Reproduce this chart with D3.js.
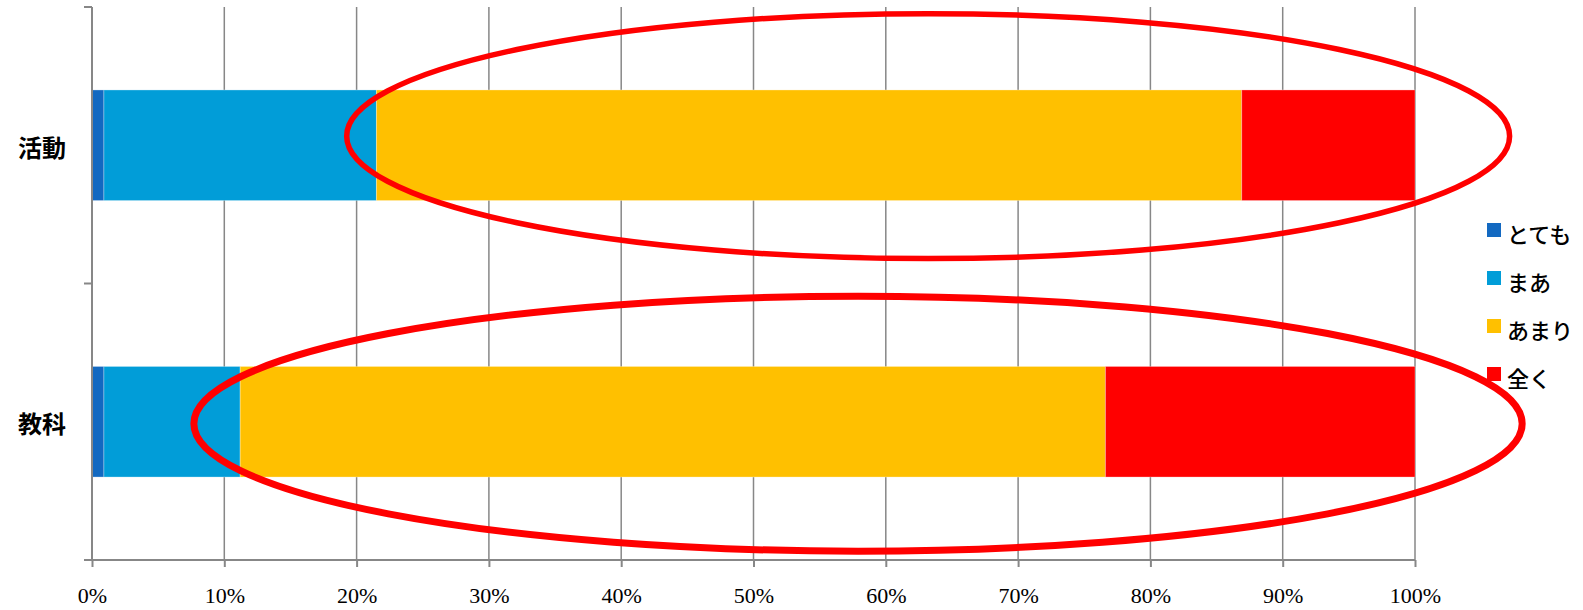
<!DOCTYPE html>
<html>
<head>
<meta charset="utf-8">
<script src="https://cdn.jsdelivr.net/npm/d3@7"></script>
<style>
  html, body { margin: 0; padding: 0; background: #fff; }
  svg { display: block; }
</style>
</head>
<body>
<script>
// ---- data ----
const categories = ["活動", "教科"];
const seriesNames = ["とても", "まあ", "あまり", "全く"];
const seriesColors = ["#1369C1", "#019DD8", "#FFC000", "#FF0000"];
const values_katsudo = [0.009, 0.206, 0.654, 0.131];
const values_kyoka   = [0.009, 0.103, 0.654, 0.234];
const tickValues = [0, 0.1, 0.2, 0.3, 0.4, 0.5, 0.6, 0.7, 0.8, 0.9, 1.0];
// annotation ellipses (centre / radius in value units, vertical in band-step units)
const ellipseCategory = ["活動", "教科"];
const ellipseCx = [0.632, 0.579];
const ellipseRx = [0.4395, 0.502];
const ellipseDy = [-0.033, 0.007];
const ellipseRy = [0.443, 0.461];
const ellipseWidth = [5.5, 7];

const W = 1583, H = 610;
const svg = d3.select("body").append("svg").attr("width", W).attr("height", H);

const x = d3.scaleLinear().domain([0, 1]).range([92, 1415]);
const y = d3.scaleBand().domain(categories).range([7, 560]).paddingInner(0.6).paddingOuter(0.3);
const step = y.step();

const rows = categories.map((c, i) => {
  const vals = i === 0 ? values_katsudo : values_kyoka;
  let acc = 0;
  return vals.map((v, j) => { const r = {cat: c, s: j, x0: acc, x1: acc + v}; acc += v; return r; });
});

const gridColor = "#878787";

// gridlines
svg.append("g").selectAll("line").data(tickValues.slice(1)).join("line")
  .attr("x1", d => x(d)).attr("x2", d => x(d))
  .attr("y1", 7).attr("y2", 560)
  .attr("stroke", gridColor).attr("stroke-width", 1.5);

// bars
svg.append("g").selectAll("g").data(rows).join("g")
  .selectAll("rect").data(d => d).join("rect")
  .attr("x", d => x(d.x0))
  .attr("width", d => x(d.x1) - x(d.x0))
  .attr("y", d => y(d.cat))
  .attr("height", y.bandwidth())
  .attr("fill", d => seriesColors[d.s])
  .attr("stroke", "#ffffff").attr("stroke-opacity", 0.3).attr("stroke-width", 1);

// bottom axis
const xAxis = d3.axisBottom(x).tickValues(tickValues).tickFormat(d3.format(".0%")).tickSize(7).tickSizeOuter(0);
const gx = svg.append("g").attr("transform", "translate(0,560)").call(xAxis);
gx.select(".domain").attr("stroke", gridColor).attr("stroke-width", 2).attr("d", `M${x(0)-8},0H${x(1)}`);
gx.selectAll(".tick line").attr("stroke", gridColor).attr("stroke-width", 2);
gx.selectAll(".tick text")
  .attr("y", 43).attr("dy", 0)
  .attr("fill", "#000")
  .style("font-family", "'Liberation Serif', 'DejaVu Serif', serif")
  .style("font-size", "22px");

// left axis
const gy = svg.append("g").attr("transform", `translate(${x(0)},0)`);
gy.append("line").attr("x1", 0).attr("x2", 0).attr("y1", 7).attr("y2", 560)
  .attr("stroke", gridColor).attr("stroke-width", 2);
const boundaries = [y.range()[0]].concat(categories.map(c => y(c) + y.bandwidth() / 2 + step / 2));
gy.selectAll("line.tk").data(boundaries).join("line").attr("class", "tk")
  .attr("x1", -8).attr("x2", 0).attr("y1", d => d).attr("y2", d => d)
  .attr("stroke", gridColor).attr("stroke-width", 2);
gy.selectAll("text").data(categories).join("text")
  .attr("x", -26).attr("y", d => y(d) + y.bandwidth() / 2 + 1)
  .attr("text-anchor", "end").attr("dominant-baseline", "central")
  .style("font-family", "'Noto Sans CJK JP', sans-serif")
  .style("font-weight", "700").style("font-size", "24px")
  .text(d => d);

// annotation ellipses
svg.append("g").selectAll("ellipse").data(ellipseCategory).join("ellipse")
  .attr("cx", (d, i) => x(ellipseCx[i]))
  .attr("cy", (d, i) => y(d) + y.bandwidth() / 2 + ellipseDy[i] * step)
  .attr("rx", (d, i) => x(ellipseRx[i]) - x(0))
  .attr("ry", (d, i) => ellipseRy[i] * step)
  .attr("fill", "none").attr("stroke", "#FF0000")
  .attr("stroke-width", (d, i) => ellipseWidth[i]);

// legend
const lg = svg.append("g").attr("transform", "translate(1487,223)");
const li = lg.selectAll("g").data(seriesNames).join("g")
  .attr("transform", (d, i) => `translate(0,${i * 48})`);
li.append("rect").attr("width", 14).attr("height", 14).attr("fill", (d, i) => seriesColors[i]);
li.append("text").attr("x", 20).attr("y", 10).attr("dominant-baseline", "central")
  .style("font-family", "'Noto Sans CJK JP', sans-serif")
  .style("font-weight", "500").style("font-size", "22px")
  .text(d => d);
</script>
</body>
</html>
